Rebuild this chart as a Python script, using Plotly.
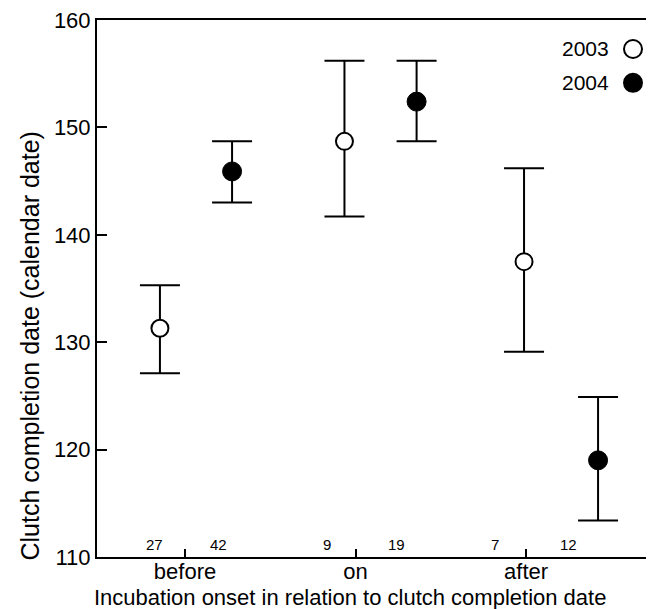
import plotly.graph_objects as go

# ---- data ----
groups = ["before", "on", "after"]
group_pos = [1, 2, 3]
x_2003 = [0.853, 1.935, 2.988]
x_2004 = [1.276, 2.358, 3.422]
mean_2003 = [131.3, 148.7, 137.5]
upper_2003 = [135.3, 156.2, 146.2]
lower_2003 = [127.1, 141.7, 129.1]
mean_2004 = [145.9, 152.4, 119.0]
upper_2004 = [148.7, 156.2, 124.9]
lower_2004 = [143.0, 148.7, 113.4]
n_labels = ["27", "42", "9", "19", "7", "12"]
n_pos = [0.824, 1.194, 1.83, 2.24, 2.82, 3.25]
y_ticks = [110, 120, 130, 140, 150, 160]

FONT = "Liberation Sans, Arial, Helvetica, sans-serif"

def err(mean, up, lo):
    return dict(type="data", symmetric=False,
                array=[u - m for u, m in zip(up, mean)],
                arrayminus=[m - l for m, l in zip(mean, lo)],
                color="black", thickness=2, width=20)

fig = go.Figure()
fig.add_trace(go.Scatter(
    x=x_2003, y=mean_2003, mode="markers", name="2003",
    error_y=err(mean_2003, upper_2003, lower_2003),
    marker=dict(symbol="circle", size=17, color="white",
                line=dict(color="black", width=2)),
    showlegend=False))
fig.add_trace(go.Scatter(
    x=x_2004, y=mean_2004, mode="markers", name="2004",
    error_y=err(mean_2004, upper_2004, lower_2004),
    marker=dict(symbol="circle", size=19, color="black",
                line=dict(color="black", width=1)),
    showlegend=False))

annotations = []
for t, xp in zip(n_labels, n_pos):
    annotations.append(dict(x=xp, y=110, xref="x", yref="y", text=t,
                            showarrow=False, yanchor="bottom", yshift=2,
                            font=dict(size=15, color="black", family=FONT)))

# axis titles
annotations.append(dict(x=0, y=129.6, xref="paper", yref="y",
                        text="Clutch completion date (calendar date)",
                        textangle=-90, showarrow=False, xanchor="center",
                        yanchor="middle", xshift=-68,
                        font=dict(size=25, color="black", family=FONT)))
annotations.append(dict(x=1.968, y=0, xref="x", yref="paper",
                        text="Incubation onset in relation to clutch completion date",
                        showarrow=False, xanchor="center", yanchor="middle",
                        yshift=-40,
                        font=dict(size=22, color="black", family=FONT)))

# legend (text + circle symbols)
leg_items = [("2003", "white", 0.946), ("2004", "black", 0.883)]
shapes = []
for label, fill, yp in leg_items:
    annotations.append(dict(x=1, y=yp, xref="paper", yref="paper", text=label,
                            showarrow=False, xanchor="right", yanchor="middle",
                            xshift=-43, font=dict(size=21, color="black", family=FONT)))
    shapes.append(dict(type="circle", xref="paper", yref="paper",
                       xsizemode="pixel", ysizemode="pixel",
                       xanchor=1, yanchor=yp,
                       x0=-30, x1=-12, y0=-9, y1=9,
                       fillcolor=fill, line=dict(color="black", width=2)))

fig.update_layout(
    width=646, height=601,
    margin=dict(l=89, r=0, t=12, b=52),
    plot_bgcolor="white", paper_bgcolor="white",
    font=dict(family=FONT, color="black", size=19),
    annotations=annotations, shapes=shapes,
    xaxis=dict(range=[0.484, 3.75], tickvals=group_pos, ticktext=groups,
               ticks="inside", ticklen=8, tickwidth=2, tickcolor="black",
               showline=True, linecolor="black", linewidth=2, mirror=True,
               showgrid=False, zeroline=False,
               tickfont=dict(size=22), ticklabelstandoff=-6),
    yaxis=dict(range=[110, 160], tickvals=y_ticks,
               ticks="inside", ticklen=10, tickwidth=2, tickcolor="black",
               showline=True, linecolor="black", linewidth=2,
               showgrid=False, zeroline=False, ticklabeloverflow="allow",
               tickfont=dict(size=22)),
)

fig.write_html("out.html")
